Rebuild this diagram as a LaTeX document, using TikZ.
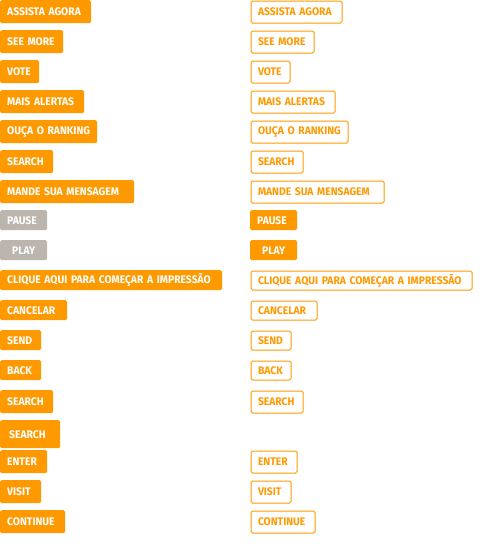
\documentclass[tikz,border=0pt]{standalone}
\usepackage{fontspec}
\setmainfont{Fira Sans}[FakeStretch=0.94]
\definecolor{btnorange}{HTML}{FF9900}
\definecolor{btngrey}{HTML}{BBB5AE}
\tikzset{
  x=1pt, y=-1pt,
  btnbase/.style={rectangle, rounded corners=1.5pt, anchor=north west,
    inner xsep=7pt, inner ysep=0pt, align=left,
    font=\fontsize{11}{13}\selectfont\bfseries},
  solidbtn/.style={btnbase, fill=btnorange, text=white},
  greybtn/.style={btnbase, fill=btngrey, text=white},
  outlinebtn/.style={btnbase, draw=btnorange, line width=1pt, fill=white, text=btnorange},
}
\newcommand{\lbtn}[6][solidbtn]{% style, name, y, w, h, text
  \node[#1, text width=#4pt-14pt, minimum height=#5pt] (#2) at (0,#3) {\mbox{#6}};}
\newcommand{\rbtn}[6][outlinebtn]{%
  \node[#1, text width=#4pt-15pt, minimum height=#5pt-1pt] (#2) at (250.5,#3+0.5) {\mbox{#6}};}
\begin{document}
\begin{tikzpicture}
\useasboundingbox (0,0) rectangle (500,550);
% left column
\lbtn{la1}{0}{91}{23}{ASSISTA AGORA}
\lbtn{la2}{30}{63}{23}{SEE MORE}
\lbtn{la3}{60}{39}{23}{VOTE}
\lbtn{la4}{90}{84}{23}{MAIS ALERTAS}
\lbtn{la5}{120}{97}{23}{OUÇA O RANKING}
\lbtn{la6}{150}{53}{23}{SEARCH}
\lbtn{la7}{180}{134}{23}{MANDE SUA MENSAGEM}
\lbtn[greybtn]{la8}{210}{47}{20}{PAUSE}
\node[greybtn, align=center, text width=33pt, minimum height=20pt] (la9) at (0,240) {PLAY};
\lbtn{la10}{270}{222}{20}{CLIQUE AQUI PARA COMEÇAR A IMPRESSÃO}
\lbtn{la11}{300}{67}{20}{CANCELAR}
\lbtn{la12}{330}{41}{20}{SEND}
\lbtn{la13}{360}{41}{20}{BACK}
\lbtn{la14}{390}{53}{23}{SEARCH}
\node[solidbtn, inner xsep=9pt, text width=42pt, minimum height=28pt] (la15) at (0,420) {\mbox{SEARCH}};
\lbtn{la16}{450}{47}{23}{ENTER}
\lbtn{la17}{480}{41}{23}{VISIT}
\lbtn{la18}{510}{65}{23}{CONTINUE}
% right column
\rbtn{ra1}{0}{92}{23}{ASSISTA AGORA}
\rbtn{ra2}{30}{64}{23}{SEE MORE}
\rbtn{ra3}{60}{40}{23}{VOTE}
\rbtn{ra4}{90}{85}{23}{MAIS ALERTAS}
\rbtn{ra5}{120}{98}{23}{OUÇA O RANKING}
\rbtn{ra6}{150}{53}{23}{SEARCH}
\rbtn{ra7}{180}{134}{23}{MANDE SUA MENSAGEM}
\node[solidbtn, text width=33pt, minimum height=20pt] (ra8) at (250,210) {\mbox{PAUSE}};
\node[solidbtn, align=center, text width=33pt, minimum height=20pt] (ra9) at (250,240) {PLAY};
\rbtn{ra10}{270}{222}{20}{CLIQUE AQUI PARA COMEÇAR A IMPRESSÃO}
\rbtn{ra11}{300}{67}{20}{CANCELAR}
\rbtn{ra12}{330}{41}{20}{SEND}
\rbtn{ra13}{360}{41}{20}{BACK}
\rbtn{ra14}{390}{53}{23}{SEARCH}
\rbtn{ra16}{450}{47}{23}{ENTER}
\rbtn{ra17}{480}{41}{23}{VISIT}
\rbtn{ra18}{510}{65}{23}{CONTINUE}
\end{tikzpicture}
\end{document}
